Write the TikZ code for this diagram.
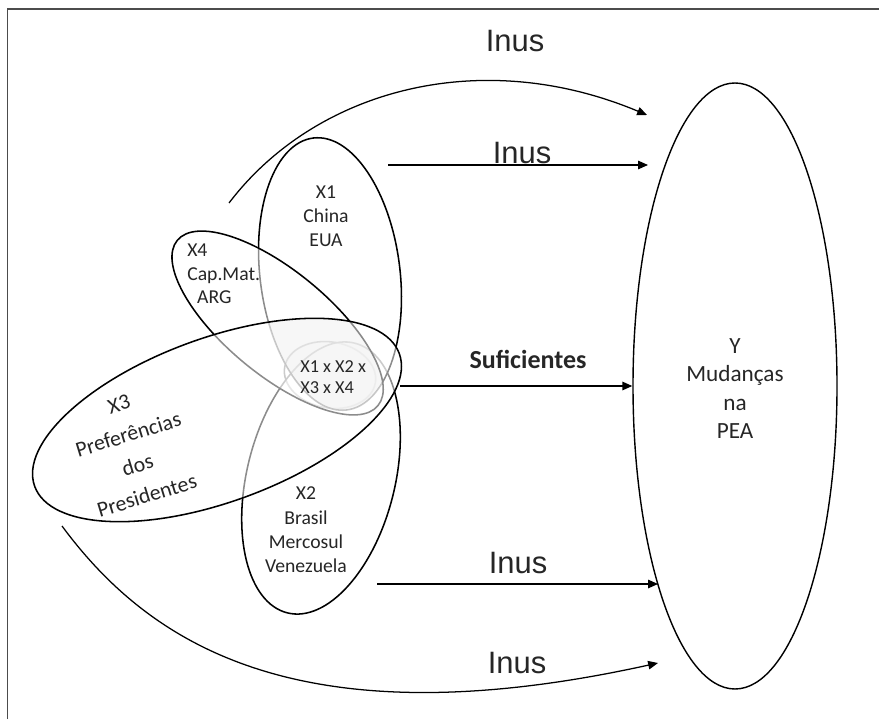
\documentclass[tikz,border=0pt]{standalone}
\usepackage{fontspec}
\setmainfont{Carlito}
\newfontfamily\inusfont{Liberation Sans}
\usetikzlibrary{shapes.geometric}
\usetikzlibrary{arrows.meta}

\tikzset{
  venn/.style={ellipse, draw, line width=1.1pt, fill=white, fill opacity=0.55, inner sep=0pt},
  flecha/.style={-{Triangle[length=7pt,width=6pt]}, line width=0.9pt},
  rotulo/.style={inner sep=0pt, text=black!85},
  inus/.style={rotulo, font=\inusfont\fontsize{22}{26}\selectfont},
}

\begin{document}
\begin{tikzpicture}
			\useasboundingbox (0,0) rectangle (21.975,17.975);
			% moldura
			\draw[line width=0.9pt, black!70] (0.19,0) -- (0.19,17.75) -- (21.975,17.75);
			% Y
			\node[ellipse, draw, line width=1pt, minimum width=5.1cm, minimum height=15.15cm, inner sep=0pt] (Y) at (18.375,8.325) {};
			\node[rotulo, align=center, font=\fontsize{16.5}{20.2}\selectfont] (ytext) at (18.375,8.26) {Y\\Mudanças\\na\\PEA};
			% conjuntos
			\node[venn, minimum width=2.3cm, minimum height=1.65cm, rotate=-10] (X1234) at (8.25,8.6) {};
			\node[venn, minimum width=3.7cm, minimum height=6.95cm, rotate=-14] (X2) at (8.025,6.025) {};
			\node[venn, minimum width=3.5cm, minimum height=6.85cm, rotate=7] (X1) at (8.25,11.125) {};
			\node[venn, minimum width=6.5cm, minimum height=2.6cm, rotate=-39.5] (X4) at (6.94,9.9) {};
			\node[venn, minimum width=9.7cm, minimum height=4.1cm, rotate=20] (X3) at (5.425,7.475) {};
			\begin{scope}
				\clip[rotate around={7:(8.25,11.125)}] (8.25,11.125) ellipse [x radius=1.75, y radius=3.425];
				\clip[rotate around={-39.5:(6.94,9.9)}] (6.94,9.9) ellipse [x radius=3.25, y radius=1.3];
				\clip[rotate around={20:(5.425,7.475)}] (5.425,7.475) ellipse [x radius=4.85, y radius=2.05];
				\fill[black, opacity=0.03] (0,0) rectangle (21.975,17.975);
			\end{scope}
			\node[rotulo, align=center, font=\fontsize{14}{17}\selectfont] (t1) at (8.15,12.575) {X1\\China\\EUA};
			\node[rotulo, align=left, anchor=west, font=\fontsize{14}{16.7}\selectfont] (t4) at (4.675,11.125) {X4\\Cap.Mat.\\\hspace*{7pt}ARG};
			\node[rotulo, align=center, rotate=17, font=\fontsize{15.5}{22.7}\selectfont] (t3) at (3.325,6.725) {X3\\Preferências\\dos\\Presidentes};
			\node[rotulo, align=center, font=\fontsize{14}{17.3}\selectfont] (t2) at (7.65,4.725) {X2\\Brasil\\Mercosul\\Venezuela};
			\node[rotulo, align=left, anchor=west, font=\fontsize{13}{15}\selectfont] (t1234) at (7.5,8.5375) {X1 x X2 x\\X3 x X4};
			% setas
			\coordinate (a1) at (5.725,12.9);
			\coordinate (b1) at (16.175,15.1);
			\coordinate (a2) at (9.7,13.85);
			\coordinate (b2) at (16.2,13.85);
			\coordinate (a4) at (9.425,3.375);
			\coordinate (b4) at (16.45,3.375);
			\coordinate (a5) at (1.55,4.825);
			\coordinate (b5) at (16.45,1.4);
			\draw[flecha] (a1) .. controls (7.875,15.725) and (12.0,16.85) .. (b1);
			\draw[flecha] (a2) -- (b2);
			\draw[flecha] (X3.east |- Y.west) -- (Y.west);
			\draw[flecha] (a4) -- (b4);
			\draw[flecha] (a5) .. controls (3.75,1.85) and (7.5,-0.575) .. (b5);
			\node[inus, anchor=base] (l1) at (12.875,16.68) {Inus};
			\node[inus, anchor=base] (l2) at (13.05,13.89) {Inus};
			\node[rotulo, anchor=base, font=\bfseries\fontsize{18.5}{22}\selectfont] (suf) at (13.2,8.775) {Suficientes};
			\node[inus, anchor=base] (l4) at (12.95,3.65) {Inus};
			\node[inus, anchor=base] (l5) at (12.925,1.15) {Inus};
		\end{tikzpicture}
\end{document}
